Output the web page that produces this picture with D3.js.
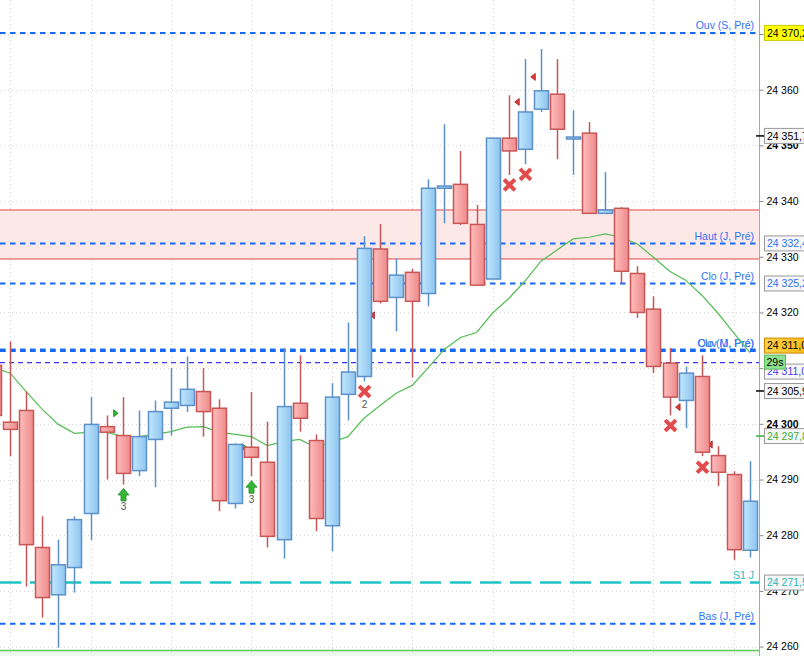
<!DOCTYPE html>
<html>
<head>
<meta charset="utf-8">
<script src="https://cdn.jsdelivr.net/npm/d3@7"></script>
<style>
    body { margin: 0; background: #fff; }
    svg { display: block; font-family: "Liberation Sans", Arial, sans-serif; }
</style>
</head>
<body>
<svg id="chart" width="804" height="656"></svg>
<script>
// candles, index 0 is the one cut by the left edge
const opens = [
    24310.5, 24300.3, 24302.4, 24277.8, 24269.3, 24274.2, 24283.9, 24299.5,
    24297.9, 24291.6, 24297.2, 24302.8, 24303.3, 24305.8, 24302.8, 24285.7,
    24295.8, 24293.1, 24279.2, 24303.7, 24297.0, 24281.7, 24305.3, 24308.5,
    24331.4, 24322.7, 24327.2, 24323.4, 24342.3, 24343.0, 24335.8, 24326.0,
    24351.3, 24349.3, 24356.5, 24359.2, 24351.3, 24352.2, 24337.8, 24338.7,
    24327.0, 24320.6, 24310.9, 24304.2, 24308.5, 24294.3, 24290.9, 24277.3];
const highs = [
    24313.2, 24314.8, 24305.8, 24283.4, 24279.2, 24283.4, 24304.8, 24301.5,
    24304.8, 24302.4, 24304.2, 24310.0, 24312.1, 24310.0, 24304.4, 24296.5,
    24305.7, 24300.4, 24313.6, 24312.3, 24298.1, 24307.3, 24318.2, 24333.7,
    24335.9, 24329.7, 24327.8, 24343.9, 24353.8, 24349.0, 24339.3, 24351.3,
    24359.0, 24365.5, 24367.3, 24365.5, 24356.3, 24354.2, 24345.2, 24338.9,
    24328.3, 24322.9, 24313.6, 24310.3, 24312.3, 24296.0, 24291.5, 24293.3];
const lows = [
    24298.8, 24294.2, 24270.8, 24265.2, 24259.8, 24269.7, 24279.1, 24290.0,
    24289.1, 24290.6, 24288.6, 24297.9, 24302.1, 24297.7, 24284.3, 24284.8,
    24290.6, 24277.8, 24275.8, 24298.6, 24280.7, 24277.1, 24300.6, 24307.6,
    24321.6, 24316.6, 24308.3, 24321.1, 24336.0, 24335.7, 24324.9, 24326.0,
    24344.7, 24346.6, 24356.0, 24347.5, 24344.7, 24337.8, 24337.8, 24325.2,
    24319.0, 24309.1, 24301.5, 24299.2, 24294.2, 24288.8, 24275.6, 24276.0];
const closes = [
    24301.5, 24299.0, 24278.3, 24268.8, 24274.7, 24282.8, 24299.9, 24298.5,
    24291.1, 24297.7, 24302.2, 24303.9, 24306.2, 24302.2, 24286.2, 24296.3,
    24294.0, 24279.8, 24303.1, 24301.0, 24283.0, 24304.8, 24309.3, 24331.5,
    24322.0, 24326.7, 24322.0, 24342.3, 24342.7, 24336.0, 24324.9, 24351.3,
    24349.0, 24356.0, 24359.8, 24352.9, 24351.5, 24337.8, 24338.4, 24327.4,
    24320.0, 24310.3, 24304.8, 24309.1, 24294.9, 24291.3, 24277.4, 24286.1];

// moving average, one value per candle
const maValues = [
    24310.1, 24309.1, 24305.8, 24302.6, 24299.9, 24298.3, 24298.5, 24298.5,
    24297.7, 24297.7, 24298.1, 24298.6, 24299.4, 24299.5, 24298.5, 24298.1,
    24297.7, 24296.1, 24296.8, 24297.2, 24295.8, 24296.7, 24297.7, 24301.0,
    24303.3, 24305.5, 24306.9, 24310.1, 24313.4, 24315.5, 24316.4, 24319.9,
    24322.5, 24325.6, 24329.2, 24331.2, 24333.2, 24333.5, 24334.1, 24333.5,
    24332.3, 24329.9, 24327.4, 24325.8, 24323.1, 24319.9, 24316.3, 24312.8];

// signals
const buyFlagIdx = [7, 15];
const buyFlagPrice = [24301.9, 24295.8];
const buyArrowIdx = [8, 16];
const buyArrowPrice = [24288.4, 24289.8];
const buyArrowCount = ["3", "3"];
const sellFlagIdx = [23, 32, 33, 42, 44];
const sellFlagPrice = [24319.5, 24357.8, 24362.3, 24303.0, 24296.3];
const sellCrossIdx = [23, 32, 33, 42, 44];
const sellCrossPrice = [24305.8, 24342.9, 24344.8, 24299.7, 24292.2];
const sellCrossCount = ["2", "", "", "", ""];

// horizontal levels
const levelNames = ["Ouv (S, Pré)", "Haut (J, Pré)", "Clo (J, Pré)", "Clo (M, Pré)", "Ouv (J, Pré)", "", "S1 J", "Bas (J, Pré)"];
const levelPrices = [24370.2, 24332.4, 24325.2, 24313.2, 24313.2, 24311.0, 24271.5, 24264.1];
const levelKinds = ["pivot", "pivot", "pivot", "month", "month", "last", "support", "pivot"];
const zoneRange = [24329.6, 24338.4];
const floorPrice = 24259.3;

// price tags on the axis
const tagValues = [24370.2, 24351.7, 24332.4, 24325.2, 24311.0, 24311.0, 24305.9, 24297.8, 24271.5];
const tagKinds = ["yellow", "plain", "blue", "blue", "purple", "orange", "plain", "green", "cyan"];
const countdownText = "29s";
const countdownPrice = 24311.0;

const yTicks = [24260, 24270, 24280, 24290, 24300, 24310, 24320, 24330, 24340, 24350, 24360, 24370];
const boldTicks = [24300, 24350];

const W = 804, H = 656, plotRight = 759;
const svg = d3.select("#chart");

const x = d3.scaleLinear().domain([0, opens.length - 1]).range([-6, 750]);
const y = d3.scaleLinear().domain([24260, 24370]).range([646.6, 34]);
const fr = d3.formatLocale({decimal: ",", thousands: " ", grouping: [3], currency: ["", ""]});
const fmtTick = fr.format(",.0f");
const fmtTag = fr.format(",.1f");

// gradients
const defs = svg.append("defs");
function grad(id, c0, c1) {
    let g = defs.append("linearGradient").attr("id", id).attr("x1", 0).attr("x2", 1).attr("y1", 0).attr("y2", 0);
    g.append("stop").attr("offset", "0%").attr("stop-color", c0);
    g.append("stop").attr("offset", "100%").attr("stop-color", c1);
}
grad("gRed", "#fdbdbd", "#ef8a8a");
grad("gBlue", "#c2e7fd", "#8dc4ef");
grad("gOrange", "#ffd24a", "#ffae00");
defs.append("clipPath").attr("id", "plot").append("rect")
    .attr("x", 0).attr("y", 0).attr("width", plotRight).attr("height", H);

const plot = svg.append("g").attr("clip-path", "url(#plot)");

// floor zone at the bottom
plot.append("rect").attr("x", 0).attr("width", plotRight)
    .attr("y", y(floorPrice)).attr("height", H - y(floorPrice)).attr("fill", "#eef8ee");
plot.append("line").attr("x1", 0).attr("x2", plotRight)
    .attr("y1", y(floorPrice)).attr("y2", y(floorPrice))
    .attr("stroke", "#5fc85f").attr("stroke-width", 1.5);

// grid
plot.append("g").selectAll("line").data(yTicks).enter().append("line")
    .attr("x1", 0).attr("x2", plotRight)
    .attr("y1", d => Math.round(y(d)) + 0.5).attr("y2", d => Math.round(y(d)) + 0.5)
    .attr("stroke", "#d6d6d6").attr("stroke-dasharray", "1,3");
const vGrid = d3.range(1, opens.length, 5);
plot.append("g").selectAll("line").data(vGrid).enter().append("line")
    .attr("x1", d => Math.round(x(d)) + 0.5).attr("x2", d => Math.round(x(d)) + 0.5)
    .attr("y1", 0).attr("y2", H)
    .attr("stroke", "#d6d6d6").attr("stroke-dasharray", "1,3");

// resistance zone
plot.append("rect").attr("x", 0).attr("width", plotRight)
    .attr("y", y(zoneRange[1])).attr("height", y(zoneRange[0]) - y(zoneRange[1]))
    .attr("fill", "#fde8e8");
zoneRange.forEach(function (p) {
    plot.append("line").attr("x1", 0).attr("x2", plotRight)
        .attr("y1", y(p)).attr("y2", y(p))
        .attr("stroke", "#e04545").attr("stroke-width", 1);
});

// level lines
const levelStyle = {
    pivot:   {stroke: "#1769f3", width: 2, dash: "5.5,4.5", text: "#2f73f2"},
    month:   {stroke: "#1769f3", width: 3.2, dash: "5.5,4.5", text: "#2f73f2"},
    last:    {stroke: "#3a35ee", width: 1.2, dash: "5,4", text: "#3a35ee"},
    support: {stroke: "#1fc3c3", width: 2.5, dash: "21,9", text: "#1fbcbc"}
};
levelPrices.forEach(function (p, i) {
    let st = levelStyle[levelKinds[i]];
    plot.append("line").attr("x1", 0).attr("x2", plotRight)
        .attr("y1", y(p)).attr("y2", y(p))
        .attr("stroke", st.stroke).attr("stroke-width", st.width)
        .attr("stroke-dasharray", st.dash);
    if (levelNames[i] !== "") {
        plot.append("text").text(levelNames[i])
            .attr("x", 754).attr("y", y(p) - 3.5)
            .attr("text-anchor", "end").attr("font-size", 10.5)
            .attr("fill", st.text);
    }
});

// moving average
plot.append("path").datum(maValues)
    .attr("d", d3.line().x((d, i) => x(i)).y(d => y(d)))
    .attr("fill", "none").attr("stroke", "#55bd55").attr("stroke-width", 1.2);

// flags drawn behind the candles
plot.append("g").selectAll("path").data(buyFlagIdx).enter().append("path")
    .attr("d", function (d, i) {
        let cx = x(d) + 7, cy = y(buyFlagPrice[i]);
        return `M${cx},${cy - 3.5}L${cx + 4.5},${cy}L${cx},${cy + 3.5}Z`;
    })
    .attr("fill", "#2fb52f").attr("stroke", "#188a18").attr("stroke-width", 0.8);
plot.append("g").selectAll("path").data(sellFlagIdx).enter().append("path")
    .attr("d", function (d, i) {
        let cx = x(d) + 6, cy = y(sellFlagPrice[i]);
        return `M${cx},${cy}L${cx + 4.5},${cy - 3.5}L${cx + 4.5},${cy + 3.5}Z`;
    })
    .attr("fill", "#e23a3a").attr("stroke", "#a81c1c").attr("stroke-width", 0.8);

// candles
const candles = plot.append("g").selectAll("g").data(opens).enter().append("g");
candles.append("line")
    .attr("x1", (d, i) => Math.round(x(i)) + 0.5).attr("x2", (d, i) => Math.round(x(i)) + 0.5)
    .attr("y1", (d, i) => y(highs[i])).attr("y2", (d, i) => y(lows[i]))
    .attr("stroke", (d, i) => closes[i] >= d ? "#5b90c9" : "#c85656")
    .attr("stroke-width", 1.5);
candles.append("rect")
    .attr("x", (d, i) => Math.round(x(i)) - 6.5)
    .attr("width", 14)
    .attr("y", (d, i) => y(Math.max(d, closes[i])))
    .attr("height", (d, i) => Math.max(2, Math.abs(y(d) - y(closes[i]))))
    .attr("fill", (d, i) => closes[i] >= d ? "url(#gBlue)" : "url(#gRed)")
    .attr("stroke", (d, i) => closes[i] >= d ? "#5b90c9" : "#c85656")
    .attr("stroke-width", 1.5);

// buy arrows
const arrows = plot.append("g").selectAll("g").data(buyArrowIdx).enter().append("g")
    .attr("transform", (d, i) => `translate(${Math.round(x(d)) + 0.5},${y(buyArrowPrice[i])})`);
arrows.append("path")
    .attr("d", "M0,0L5.5,6.5L2.5,6.5L2.5,12.5L-2.5,12.5L-2.5,6.5L-5.5,6.5Z")
    .attr("fill", "#34b834").attr("stroke", "#1d8a1d").attr("stroke-width", 0.8);
arrows.append("text").text((d, i) => buyArrowCount[i])
    .attr("y", 22).attr("text-anchor", "middle").attr("font-size", 10).attr("fill", "#555");

// sell crosses
const crosses = plot.append("g").selectAll("g").data(sellCrossIdx).enter().append("g")
    .attr("transform", (d, i) => `translate(${Math.round(x(d)) + 0.5},${y(sellCrossPrice[i])})`);
crosses.append("path")
    .attr("d", "M-4,-4L4,4M4,-4L-4,4")
    .attr("stroke", "#e24c4c").attr("stroke-width", 4).attr("stroke-linecap", "square");
crosses.append("text").text((d, i) => sellCrossCount[i])
    .attr("y", 16).attr("text-anchor", "middle").attr("font-size", 10).attr("fill", "#555");

// right axis
svg.append("line").attr("x1", plotRight + 0.5).attr("x2", plotRight + 0.5)
    .attr("y1", 0).attr("y2", H).attr("stroke", "#a8a8a8");
const axis = d3.axisRight(y).tickValues(yTicks).tickSize(4).tickPadding(3).tickFormat(fmtTick);
const axisG = svg.append("g").attr("transform", `translate(${plotRight + 0.5},0)`).call(axis);
axisG.select(".domain").remove();
axisG.selectAll(".tick line").attr("stroke", "#888");
axisG.selectAll(".tick text")
    .attr("font-size", 10.5).attr("font-family", "Liberation Sans, Arial, sans-serif")
    .attr("fill", "#000")
    .attr("font-weight", d => boldTicks.includes(d) ? "bold" : "normal");

// price tags
const tagStyle = {
    yellow: {fill: "#ffff00", stroke: "#c9c900", text: "#000", dy: 0},
    plain:  {fill: "#f7f7f7", stroke: "#9a9a9a", text: "#000", dy: 0, tick: "#000"},
    blue:   {fill: "#f7f7f7", stroke: "#9a9a9a", text: "#2f73f2", dy: 0},
    purple: {fill: "#f7f7f7", stroke: "#9a9a9a", text: "#4b3bf0", dy: 9},
    orange: {fill: "url(#gOrange)", stroke: "#c98a00", text: "#000", dy: -17},
    green:  {fill: "#f7f7f7", stroke: "#9a9a9a", text: "#3aae3a", dy: 0, tick: "#3aae3a"},
    cyan:   {fill: "#f7f7f7", stroke: "#9a9a9a", text: "#1fb8b8", dy: 0}
};
tagValues.forEach(function (v, i) {
    let st = tagStyle[tagKinds[i]];
    let cy = y(v) + st.dy;
    let g = svg.append("g").attr("transform", `translate(0,${cy})`);
    if (st.tick) {
        g.append("line").attr("x1", 756).attr("x2", 764).attr("y1", 0).attr("y2", 0)
            .attr("stroke", st.tick).attr("stroke-width", 1.5);
    }
    g.append("rect").attr("x", 764.5).attr("y", -7.5).attr("width", 60).attr("height", 15)
        .attr("fill", st.fill).attr("stroke", st.stroke);
    g.append("text").text(fmtTag(v)).attr("x", 767).attr("y", 0).attr("dy", "0.36em")
        .attr("font-size", 10.5).attr("fill", st.text);
});

// countdown box
const cd = svg.append("g").attr("transform", `translate(0,${y(countdownPrice) - 0.5})`);
cd.append("rect").attr("x", 764.5).attr("y", -7).attr("width", 21).attr("height", 14)
    .attr("fill", "#8fe08f").attr("stroke", "#5cb85c");
cd.append("text").text(countdownText).attr("x", 766.5).attr("dy", "0.36em")
    .attr("font-size", 10.5).attr("fill", "#000");
</script>
</body>
</html>
